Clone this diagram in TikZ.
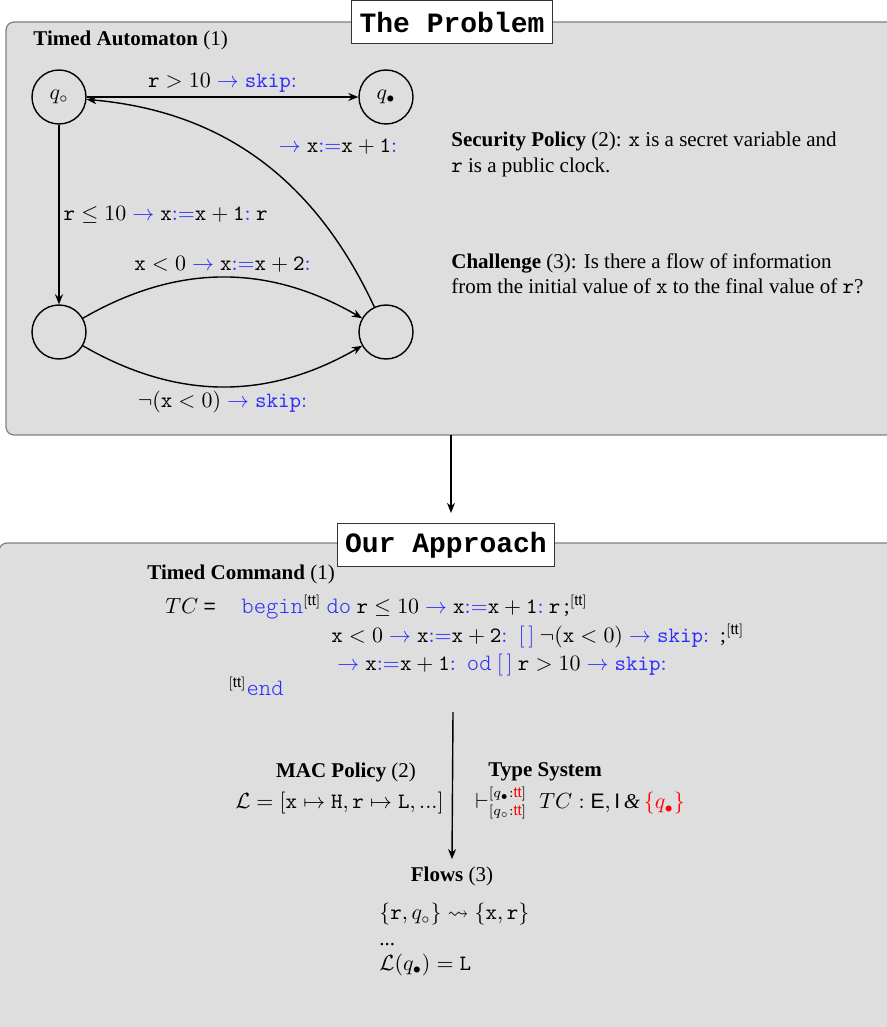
\documentclass[tikz,border=0pt]{standalone}
\usepackage{amsmath, amssymb}
\usepackage[no-math]{fontspec}
\setmainfont{Liberation Serif}
\setsansfont{Liberation Sans}
\newfontfamily\titlefont{Liberation Mono}
\IfFontExistsTF{lmmonolt10-regular.otf}
  {\newfontfamily\courierfont[Scale=1.12]{lmmonolt10-regular.otf}}
  {\newfontfamily\courierfont{Liberation Mono}}
\usetikzlibrary{arrows.meta, positioning}
\usepackage{xcolor}
\definecolor{kwblue}{RGB}{45, 45, 255}
\definecolor{panelgray}{RGB}{222, 222, 222}
\definecolor{paneledge}{RGB}{128, 128, 128}
\newcommand{\bto}{\mathrel{\textcolor{kwblue}{\rightarrow}}}
\newcommand{\bassign}{\textcolor{kwblue}{:=}}
\newcommand{\bcolon}{\textcolor{kwblue}{:}}
\newcommand{\tskip}{\textcolor{kwblue}{\mathtt{skip}}}
\newcommand{\kw}[1]{\textcolor{kwblue}{\courierfont #1}}
\newcommand{\tts}{$^{[\textsf{tt}]}$}
\newcommand{\bbox}{\textcolor{kwblue}{$[\,]$}}
\AtBeginDocument{\fontsize{10.5}{12.6}\selectfont}

\begin{document}
\begin{tikzpicture}[x=0.5pt, y=0.5pt,
  panel/.style={draw=paneledge, fill=panelgray, rounded corners=4pt, line width=0.6pt},
  titlebox/.style={draw=black!80, fill=white, line width=0.6pt, inner xsep=4pt,
                   minimum height=21.5pt, font=\titlefont\bfseries\fontsize{14}{16}\selectfont},
  state/.style={draw, circle, minimum size=27pt, inner sep=0pt, line width=0.7pt},
  edge/.style={->, line width=0.7pt},
  lbl/.style={inner sep=2pt},
  >={Stealth[length=5pt, width=4pt]}
]
  \useasboundingbox (0,0) rectangle (887,-1027);

  % ── The Problem ──
  \draw[panel] (6,-22) rectangle (905,-435);
  \node[titlebox] (problem) at (452,-22) {The Problem};
  \node[anchor=west, inner sep=0pt] (tahead) at (33,-40) {\textbf{Timed Automaton} (1)};

  \node[state] (q0) at (59,-97) {$q_\circ$};
  \node[state] (q1) at (386,-97) {$q_\bullet$};
  \node[state] (q2) at (59,-332) {};
  \node[state] (q3) at (386,-332) {};

  \draw[edge] (q0) -- node[lbl, above] {$\mathtt{r} > 10 \bto \tskip\bcolon$} (q1);
  \draw[edge] (q0) -- node[lbl, right]
    {$\mathtt{r} \le 10 \bto \mathtt{x}\bassign\mathtt{x}+\mathtt{1}\bcolon\ \mathtt{r}$} (q2);
  \draw[edge] (q2) to[bend left=30] node[lbl, above]
    {$\mathtt{x} < 0 \bto \mathtt{x}\bassign\mathtt{x}+\mathtt{2}\bcolon$} (q3);
  \draw[edge] (q2) to[bend right=30] node[lbl, below]
    {$\neg(\mathtt{x} < 0) \bto \tskip\bcolon$} (q3);
  \draw[edge] (q3) to[out=115, in=-5] node[lbl, pos=0.45, anchor=south west, yshift=6pt]
    {$\bto \mathtt{x}\bassign\mathtt{x}+\mathtt{1}\bcolon$} (q0);

  \node[anchor=north west, align=left, inner sep=0pt] (secpol) at (451,-132)
    {\textbf{Security Policy} (2): $\mathtt{x}$ is a secret variable and\\
     $\mathtt{r}$ is a public clock.};
  \node[anchor=north west, align=left, inner sep=0pt] (challenge) at (451,-253)
    {\textbf{Challenge} (3): Is there a flow of information\\
     from the initial value of $\mathtt{x}$ to the final value of $\mathtt{r}$?};

  % ── Our Approach ──
  \draw[panel] (-1,-543) rectangle (905,-1045);
  \node[titlebox] (approach) at (446,-545) {Our Approach};
  \coordinate (probbot) at (451,-435);
  \draw[edge, shorten >=5pt] (probbot) -- (approach.north -| probbot);

  \node[anchor=west, inner sep=0pt] (tchead) at (147,-574) {\textbf{Timed Command} (1)};
  \node[anchor=base west, inner sep=0pt] (tceq) at (165,-613) {$TC$ \textsf{=}};
  \node[anchor=base west, inner sep=0pt] (line1) at (241,-613)
    {\kw{begin}\tts{} \kw{do} $\mathtt{r} \le 10 \bto \mathtt{x}\bassign\mathtt{x}+\mathtt{1}\bcolon\ \mathtt{r}$\,;\tts};
  \node[anchor=base west, inner sep=0pt] (line2) at (331,-642)
    {$\mathtt{x} < 0 \bto \mathtt{x}\bassign\mathtt{x}+\mathtt{2}\bcolon$\; \bbox{} $\neg(\mathtt{x} < 0) \bto \tskip\bcolon$\; ;\tts};
  \node[anchor=base west, inner sep=0pt] (line3) at (337,-670)
    {$\bto \mathtt{x}\bassign\mathtt{x}+\mathtt{1}\bcolon$\; \kw{od} \bbox{} $\mathtt{r} > 10 \bto \tskip\bcolon$};
  \node[anchor=base west, inner sep=0pt] (line4) at (228,-695) {\tts\kw{end}};

  \node[font=\bfseries] (machead) at (346,-772) {MAC Policy \textmd{(2)}};
  \node[anchor=east, inner sep=0pt] (macpol) at (444,-803)
    {$\mathcal{L} = [\mathtt{x} \mapsto \mathtt{H}, \mathtt{r} \mapsto \mathtt{L}, ...]$};
  \node[font=\bfseries, anchor=west, inner sep=0pt] (tshead) at (488,-772) {Type System};
  \node[anchor=west, inner sep=0pt] (tsjudg) at (475,-803)
    {$\vdash^{[q_\bullet:\textcolor{red}{\textsf{tt}}]}_{[q_\circ:\textcolor{red}{\textsf{tt}}]}\; TC : \textsf{E}, \textsf{I}\,\textit{\&}\,\textcolor{red}{\{q_\bullet\}}$};

  \node[font=\bfseries] (flowshead) at (452,-876) {Flows \textmd{(3)}};
  \node[anchor=north west, align=left, inner sep=0pt] (flows) at (379,-903)
    {$\{\mathtt{r}, q_\circ\} \leadsto \{\mathtt{x}, \mathtt{r}\}$\\
     ...\\
     $\mathcal{L}(q_\bullet) = \mathtt{L}$};
  \coordinate (tctail) at (453,-712);
  \draw[edge] (tctail) -- (flowshead.north);
\end{tikzpicture}
\end{document}
